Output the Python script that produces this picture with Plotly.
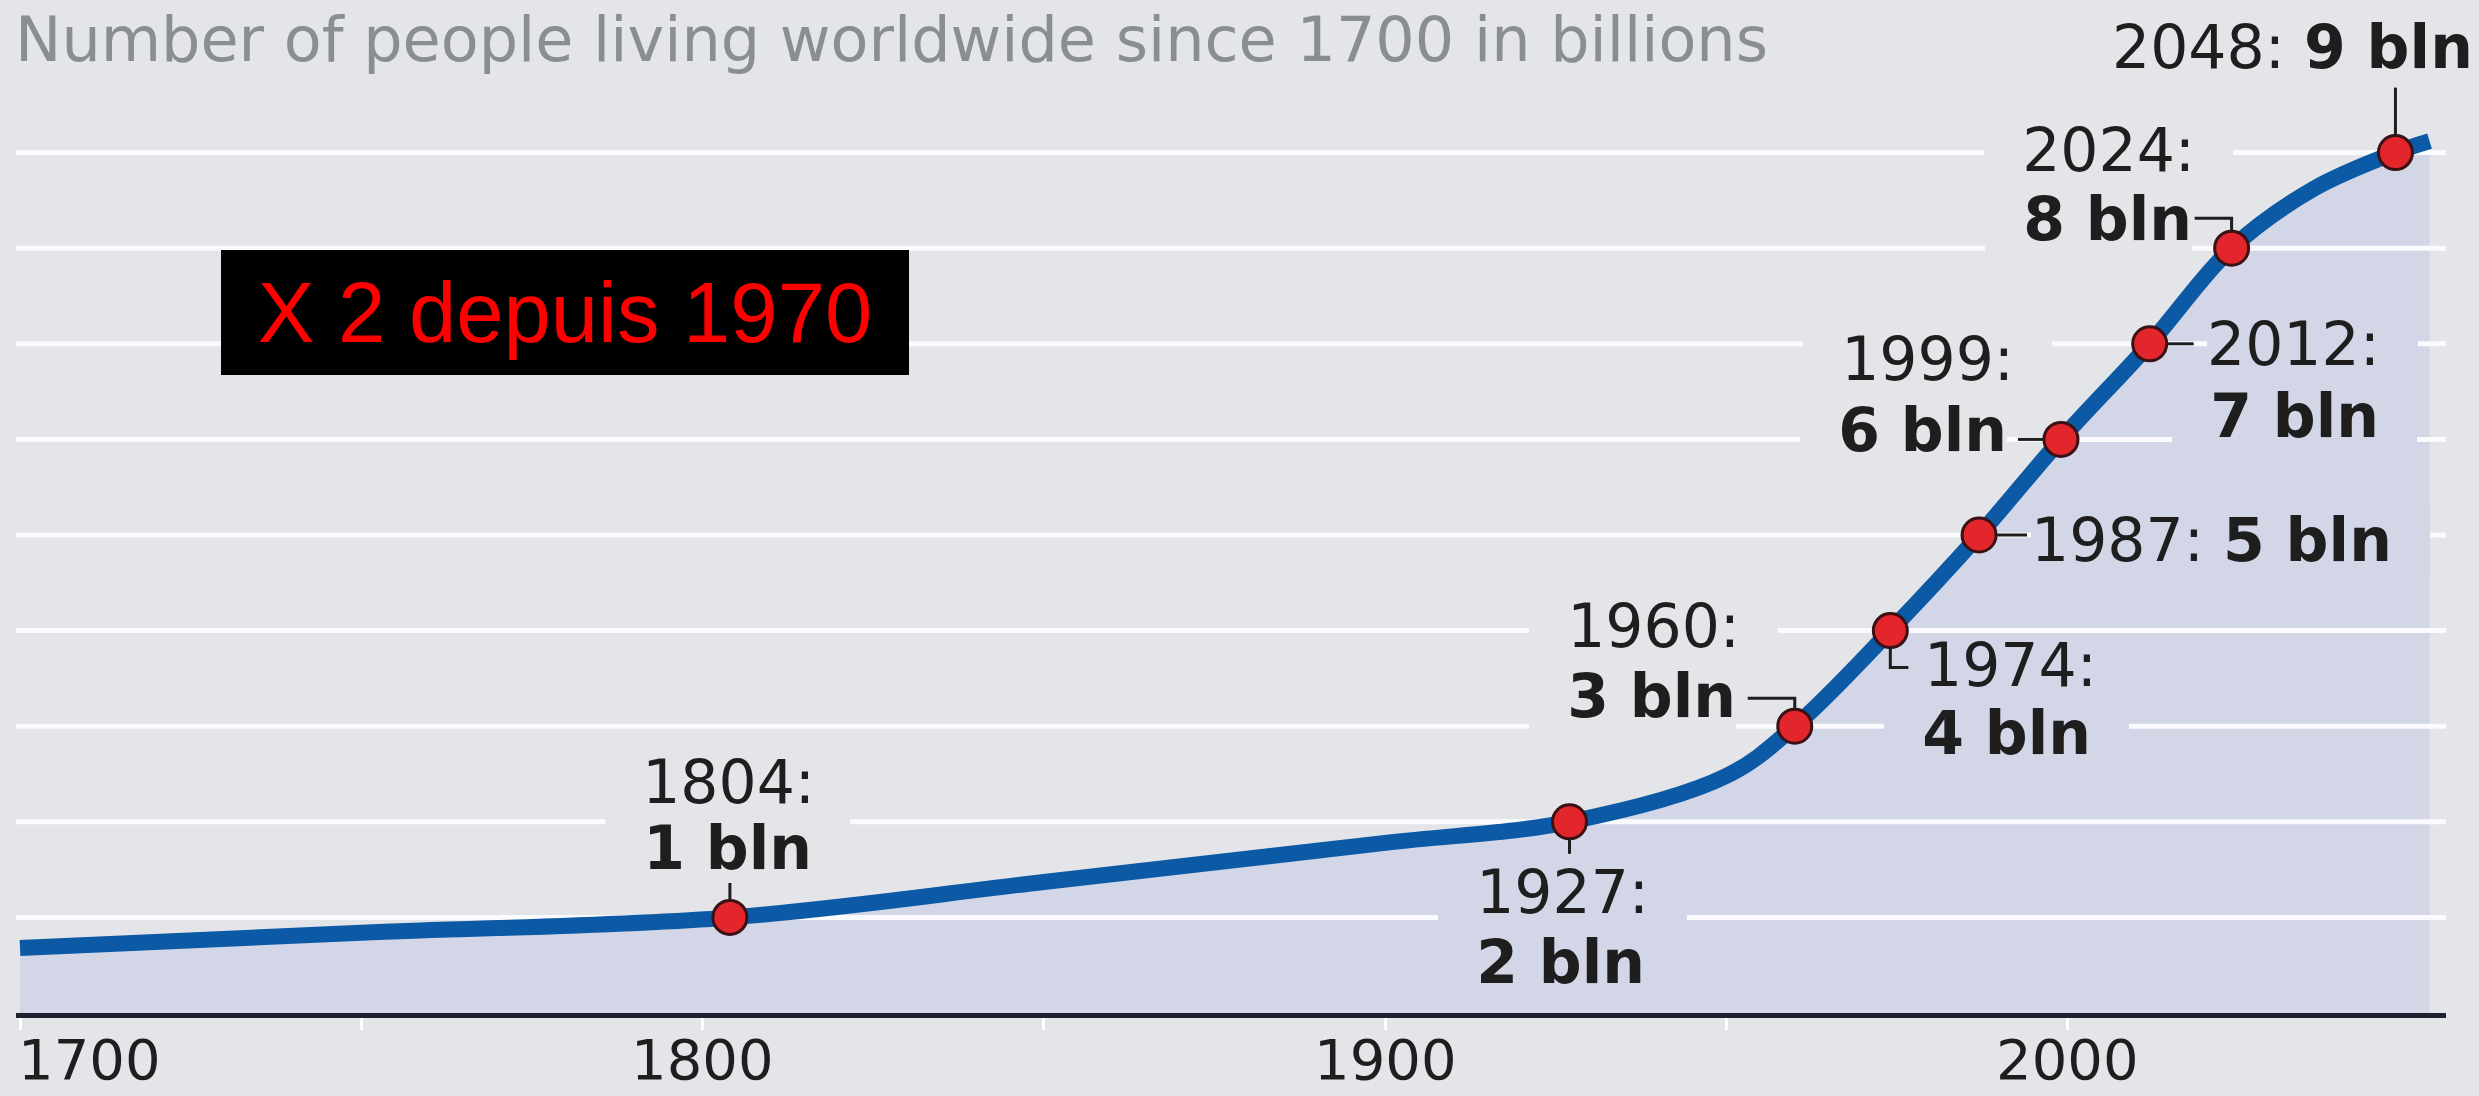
import plotly.graph_objects as go

# ---------------- data ----------------
curve_years = [1700, 1750, 1804, 1850, 1900, 1927, 1950, 1960,
               1974, 1987, 1999, 2012, 2024, 2036, 2048, 2053]
curve_pop = [0.68, 0.84, 1.0, 1.37, 1.78, 2.0, 2.48, 3.0,
             4.0, 5.0, 6.0, 7.0, 8.0, 8.62, 9.0, 9.12]

milestone_years = [1804, 1927, 1960, 1974, 1987, 1999, 2012, 2024, 2048]
milestone_pop = [1, 2, 3, 4, 5, 6, 7, 8, 9]
milestone_year_text = ["1804:", "1927:", "1960:", "1974:", "1987:", "1999:", "2012:", "2024:", "2048:"]
milestone_pop_text = ["1 bln", "2 bln", "3 bln", "4 bln", "5 bln", "6 bln", "7 bln", "8 bln", "9 bln"]

x_tick_values = [1700, 1750, 1800, 1850, 1900, 1950, 2000]
x_tick_labels = ["1700", "1800", "1900", "2000"]
x_tick_label_values = [1700, 1800, 1900, 2000]
grid_values = [1, 2, 3, 4, 5, 6, 7, 8, 9]

title_text = "Number of people living worldwide since 1700 in billions"
box_text = "X 2 depuis 1970"

# ---------------- layout constants ----------------
W, H = 2479, 1096
ML, MR, MT, MB = 16, 33, 0, 83
PW, PH = W - ML - MR, H - MT - MB
PX_PER_YEAR = 6.826
PX_PER_BLN = 95.6
X0 = 1700 - 4 / PX_PER_YEAR
X1 = X0 + PW / PX_PER_YEAR
YMAX = PH / PX_PER_BLN

BG = "#e3e5e8"
FILL = "#d2d6e7"
LINE = "#0c5aa6"
DOT = "#e3262c"
DOT_EDGE = "#3a1114"
INK = "#1e1e1e"
FONT = "DejaVu Sans"
NB = "\u00a0"
NBW = 0.318 * 60  # width of nbsp at 60px


def px_to_paper_x(px):
    return (px - ML) / PW


def px_to_paper_y(py):
    return (MT + PH - py) / PH


fig = go.Figure()

# fill under the curve
fig.add_trace(go.Scatter(x=curve_years, y=curve_pop, mode="lines",
                         line=dict(width=0, shape="spline", color=FILL),
                         fill="tozeroy", fillcolor=FILL, hoverinfo="skip",
                         showlegend=False))

# gridlines (above fill, below curve)
gx, gy = [], []
for v in grid_values:
    gx += [X0, X1, None]
    gy += [v, v, None]
fig.add_trace(go.Scatter(x=gx, y=gy, mode="lines",
                         line=dict(width=5, color="#fbfbfd"),
                         hoverinfo="skip", showlegend=False))

# main curve
fig.add_trace(go.Scatter(x=curve_years, y=curve_pop, mode="lines",
                         line=dict(width=16, shape="spline", color=LINE),
                         hoverinfo="skip", showlegend=False))

# milestone dots
fig.add_trace(go.Scatter(x=milestone_years, y=milestone_pop, mode="markers",
                         marker=dict(size=34, color=DOT,
                                     line=dict(width=3, color=DOT_EDGE)),
                         hoverinfo="skip", showlegend=False))

# ---------------- labels ----------------
# per milestone: (year line dx, dy, pad_left, pad_right, bg), (bln line ...)
# None means a single-line label (see single_layout)
label_layout = [
    ((-1, 135, 2, 2, BG), (-2, 69, 2, 2, BG)),
    ((-7, -70, 2, 2, FILL), (-9, -140, 2, 2, FILL)),
    ((-141, 100, 2, 2, BG), (-143, 30, 2, 0, BG)),
    ((120, -34, 0, 0, None), (116, -102, 2, 2, FILL)),
    None,
    ((-133, 80, 2, 2, BG), (-138, 9, 2, 0, BG)),
    ((144, 0, 0, 2, FILL), (145, -72, 2, 2, FILL)),
    ((-123, 98, 2, 2, BG), (-124, 29, 2, 0, BG)),
    None,
]
single_layout = {4: (52, -5, "left", 0, 2, FILL), 8: (-103, 106, "center", 0, 0, None)}

annotations = []
for i, (yr, val) in enumerate(zip(milestone_years, milestone_pop)):
    if label_layout[i] is not None:
        for (dx, dy, pl, pr, bg), txt in zip(label_layout[i],
                                             [milestone_year_text[i],
                                              "<b>" + milestone_pop_text[i] + "</b>"]):
            a = dict(x=yr, y=val, xref="x", yref="y",
                     text=NB * pl + txt + NB * pr, showarrow=False,
                     xanchor="center", yanchor="middle",
                     xshift=dx - (pl - pr) * NBW / 2, yshift=dy,
                     font=dict(family=FONT, size=60, color=INK),
                     borderpad=0, borderwidth=0)
            if bg:
                a["bgcolor"] = bg
            annotations.append(a)
    else:
        dx, dy, anc, pl, pr, bg = single_layout[i]
        txt = milestone_year_text[i] + " <b>" + milestone_pop_text[i] + "</b>"
        shift = dx - (pl - pr) * NBW / 2 if anc == "center" else dx
        a = dict(x=yr, y=val, xref="x", yref="y",
                 text=NB * pl + txt + NB * pr, showarrow=False,
                 xanchor=anc, yanchor="middle", xshift=shift, yshift=dy,
                 font=dict(family=FONT, size=60, color=INK),
                 borderpad=0, borderwidth=0)
        if bg:
            a["bgcolor"] = bg
        annotations.append(a)

# leader lines (pixel paths anchored at each dot)
leader_paths = [
    "M 0 17 L 0 35",
    "M 0 -17 L 0 -32",
    "M -47 28 L 0 28 L 0 17",
    "M 0 -17 L 0 -37 L 18 -37",
    "M 17 0 L 48 0",
    "M -17 0 L -43 0",
    "M 17 0 L 44 0",
    "M -37 30 L 0 30 L 0 17",
    "M 0 17 L 0 65",
]
shapes = []
for yr, val, p in zip(milestone_years, milestone_pop, leader_paths):
    shapes.append(dict(type="path", xref="x", yref="y",
                       xsizemode="pixel", ysizemode="pixel",
                       xanchor=yr, yanchor=val, path=p,
                       line=dict(color=INK, width=3), layer="above"))

# x tick labels
for v, t in zip(x_tick_label_values, x_tick_labels):
    annotations.append(dict(
        x=v, y=0, xref="x", yref="paper", text=t, showarrow=False,
        xanchor="left" if v == x_tick_label_values[0] else "center",
        xshift=-4 if v == x_tick_label_values[0] else 0,
        yanchor="middle", yshift=-46,
        font=dict(family=FONT, size=56, color=INK)))

# title
annotations.append(dict(
    x=px_to_paper_x(13), y=1, xref="paper", yref="paper",
    text=title_text, showarrow=False, xanchor="left", yanchor="top",
    yshift=-1,
    font=dict(family=FONT, size=62, color="#8b8e91")))

# red-on-black callout box
annotations.append(dict(
    x=px_to_paper_x(565), y=px_to_paper_y(312), xref="paper", yref="paper",
    text=box_text, showarrow=False, xanchor="center", yanchor="middle",
    width=688, height=125, bgcolor="#000000", borderpad=0, borderwidth=0,
    font=dict(family="Liberation Sans, Arial, sans-serif", size=85, color="#ff0000")))

fig.update_layout(
    width=W, height=H,
    margin=dict(l=ML, r=MR, t=MT, b=MB, pad=0),
    paper_bgcolor=BG, plot_bgcolor=BG,
    showlegend=False,
    annotations=annotations,
    shapes=shapes,
    xaxis=dict(range=[X0, X1], showgrid=False, zeroline=False,
               showline=True, linecolor="#1c2230", linewidth=5,
               ticks="outside", tickvals=x_tick_values, ticklen=12,
               tickwidth=3, tickcolor="#ffffff", showticklabels=False,
               fixedrange=True),
    yaxis=dict(range=[0, YMAX], showgrid=False, zeroline=False,
               showline=False, showticklabels=False, fixedrange=True),
)

fig.write_html(
    "out.html",
    config={"displayModeBar": False},
    post_script="document.body.style.margin='0';document.body.style.padding='0';"
                "document.documentElement.style.overflow='hidden';",
)
